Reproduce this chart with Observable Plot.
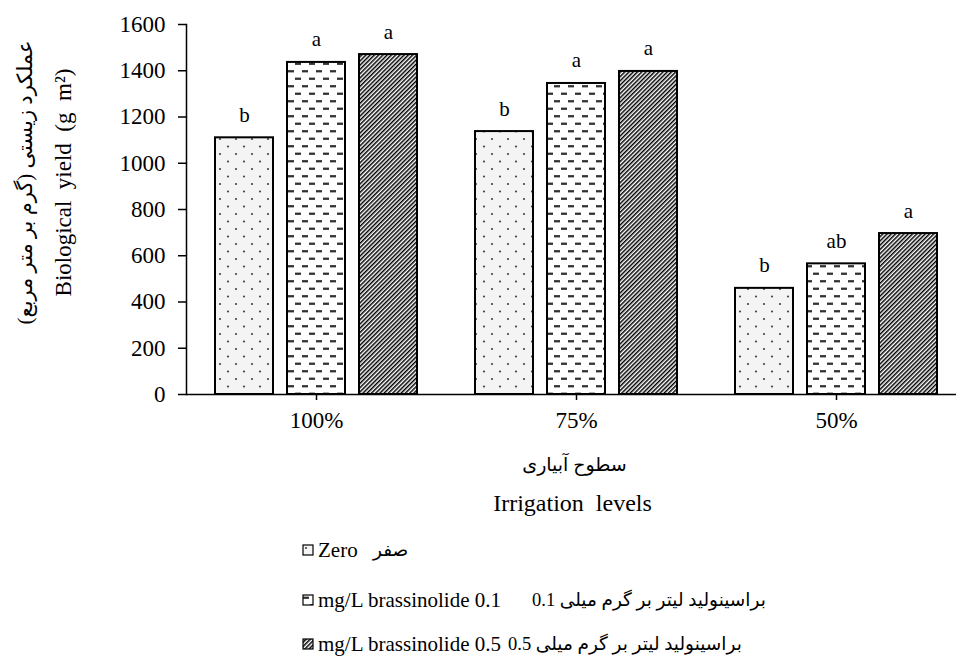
<!DOCTYPE html>
<html><head><meta charset="utf-8">
<script src="https://cdn.jsdelivr.net/npm/d3@7"></script>
<script src="https://cdn.jsdelivr.net/npm/@observablehq/plot@0.6"></script>
<style>
body{margin:0;background:#fff;overflow:hidden;font-family:"Liberation Serif","DejaVu Sans",serif;color:#000;}
#chart svg{display:block;}
#legend{position:relative;width:956px;height:127px;}
.row{position:absolute;left:0;height:24px;width:956px;}
.row span,.row svg{position:absolute;top:0;white-space:pre;line-height:24px;}
.en{font-size:21px;font-family:"Liberation Serif",serif;}
.fa{font-size:18.5px;font-family:"Liberation Serif","DejaVu Sans",serif;}
</style></head><body>
<div id="chart"></div>
<div id="legend"></div>
<script>
// ---- data ----
const groups = ["100%", "75%", "50%"];
const zeroValues = [1110, 1137, 459];
const lowValues = [1436, 1345, 565];
const highValues = [1470, 1397, 696];
const zeroLetters = ["b", "b", "b"];
const lowLetters = ["a", "a", "ab"];
const highLetters = ["a", "a", "a"];
const yTicks = [0, 200, 400, 600, 800, 1000, 1200, 1400, 1600];
const legendEnglish = ["Zero", "mg/L brassinolide 0.1", "mg/L brassinolide 0.5"];
const legendPersian = ["صفر", "0.1 میلی گرم بر لیتر براسینولید", "0.5 میلی گرم بر لیتر براسینولید"];
const yLabelPersian = "عملکرد زیستی (گرم بر متر مربع)";
const yLabelEnglish = "Biological  yield  (g  m²)";
const xLabelPersian = "سطوح آبیاری";
const xLabelEnglish = "Irrigation  levels";

// ---- styles ----
const series = [
  {values: zeroValues, letters: zeroLetters, fill: "url(#pDots)", dx: -72},
  {values: lowValues, letters: lowLetters, fill: "url(#pDash)", dx: 0},
  {values: highValues, letters: highLetters, fill: "url(#pHatch)", dx: 72}
];
const rowsOf = s => groups.map((g, i) => ({group: g, value: s.values[i], letter: s.letters[i]}));
const font = "Liberation Serif, DejaVu Sans, serif";

const chart = Plot.plot({
  width: 956,
  height: 530,
  marginTop: 24,
  marginBottom: 136,
  marginLeft: 186,
  marginRight: 0,
  style: {fontFamily: font, color: "#000", background: "#fff", overflow: "visible"},
  x: {domain: groups, range: [186, 966], padding: 0},
  y: {domain: [0, 1600]},
  marks: [
    ...series.map(s => Plot.barY(rowsOf(s), {x: "group", y: "value", fill: s.fill, stroke: "black", strokeWidth: 2, insetLeft: 101, insetRight: 101, dx: s.dx})),
    ...series.map(s => Plot.text(rowsOf(s), {x: "group", y: "value", text: "letter", dx: s.dx, dy: -16, lineAnchor: "bottom", fontSize: 21, fill: "black"})),
    Plot.ruleY([0], {stroke: "black", strokeWidth: 1.5}),
    Plot.frame({anchor: "left", stroke: "black", strokeWidth: 1.5}),
    Plot.axisY({ticks: yTicks, tickFormat: "d", tickSize: 8, tickPadding: 13, fontSize: 23, label: null, strokeWidth: 1.5}),
    Plot.axisX({tickSize: 6, tickPadding: 11, fontSize: 23, label: null, strokeWidth: 1.5}),
    Plot.text([yLabelPersian], {frameAnchor: "left", textAnchor: "middle", text: d => "\u200F" + d + "\u200F", rotate: -90, dx: -161, dy: -27, fontSize: 21, fill: "black"}),
    Plot.text([yLabelEnglish], {frameAnchor: "left", textAnchor: "middle", rotate: -90, dx: -123, dy: -27, fontSize: 23, fill: "black"}),
    Plot.text([xLabelPersian], {x: () => groups[1], frameAnchor: "bottom", dy: 76, dx: -2, fontSize: 19, fill: "black"}),
    Plot.text([xLabelEnglish], {x: () => groups[1], frameAnchor: "bottom", dy: 116, dx: -4, fontSize: 24, fill: "black"})
  ]
});

const patternDefs = `
<pattern id="pDots" patternUnits="userSpaceOnUse" width="16" height="15">
  <rect width="16" height="15" fill="#f4f4f4"/>
  <circle cx="4" cy="4" r="1.1" fill="#444"/>
  <circle cx="12" cy="11.5" r="1.1" fill="#444"/>
</pattern>
<pattern id="pDash" patternUnits="userSpaceOnUse" width="14" height="15">
  <rect width="14" height="15" fill="#fff"/>
  <line x1="1" y1="3.75" x2="7" y2="3.75" stroke="#333" stroke-width="2.3"/>
  <line x1="8" y1="11.25" x2="14" y2="11.25" stroke="#333" stroke-width="2.3"/>
</pattern>
<pattern id="pHatch" patternUnits="userSpaceOnUse" width="3" height="3" patternTransform="rotate(45)">
  <rect width="3" height="3" fill="#fff"/>
  <line x1="0.75" y1="0" x2="0.75" y2="3" stroke="#000" stroke-width="1.5"/>
</pattern>`;
d3.select(chart).insert("defs", ":first-child").html(patternDefs);
document.getElementById("chart").appendChild(chart);

// ---- legend ----
const ltrWords = s => s.split(" ").join("\u200E ");
const legend = d3.select("#legend");
const rowTops = [8, 58, 102];
const persianLeft = [373, 532, 508];
series.forEach((s, i) => {
  const row = legend.append("div").attr("class", "row").style("top", rowTops[i] + "px");
  const sw = row.append("svg").attr("width", 12).attr("height", 12)
    .style("left", "302px").style("top", "6px");
  sw.append("defs").html(patternDefs.replace(/id="p/g, 'id="l' + i + 'p'));
  sw.append("rect").attr("x", 1).attr("y", 1).attr("width", 10).attr("height", 10)
    .attr("fill", s.fill.replace("#p", "#l" + i + "p")).attr("stroke", "black").attr("stroke-width", 1.2);
  row.append("span").attr("class", "en").style("left", "318px").text(legendEnglish[i]);
  row.append("span").attr("class", "fa").style("left", persianLeft[i] + "px").text(ltrWords(legendPersian[i]));
});
</script>
</body></html>
